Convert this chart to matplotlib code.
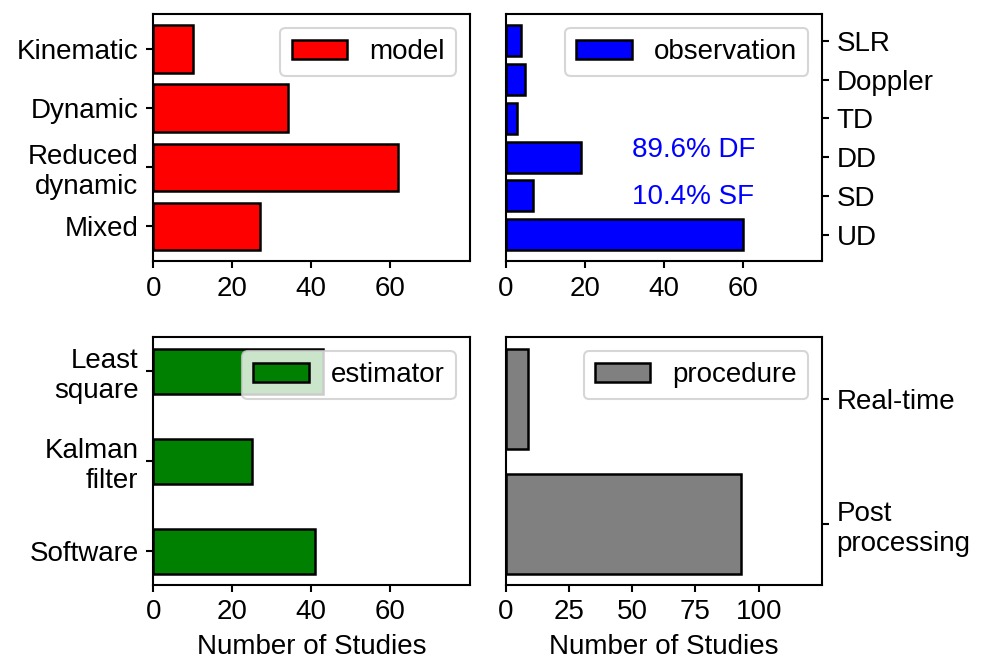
import matplotlib.pyplot as plt
import numpy as np

plt.rcParams['font.family'] = ['Liberation Sans', 'DejaVu Sans']
plt.rcParams['font.size'] = 13.3
plt.rcParams['axes.linewidth'] = 1.0
plt.rcParams['xtick.major.width'] = 1.0
plt.rcParams['ytick.major.width'] = 1.0

# counts per category, listed bottom to top
model_labels = ['Mixed', 'Reduced\ndynamic', 'Dynamic', 'Kinematic']
model_counts = [27, 62, 34, 10]

obs_labels = ['UD', 'SD', 'DD', 'TD', 'Doppler', 'SLR']
obs_counts = [60, 7, 19, 3, 5, 4]

est_labels = ['Software', 'Kalman\nfilter', 'Least\nsquare']
est_counts = [41, 25, 43]

proc_labels = ['Post\nprocessing', 'Real-time']
proc_counts = [93, 9]

fig, axes = plt.subplots(2, 2, figsize=(988 / 150, 666 / 150), dpi=150)
fig.subplots_adjust(left=0.155, right=0.832, top=0.979, bottom=0.122,
                    wspace=0.114, hspace=0.307)

bar_kw = dict(edgecolor='black', linewidth=1.2)

ax = axes[0, 0]
ax.barh(model_labels, model_counts, height=0.8, color='red',
        label='model', **bar_kw)
ax.set_xlim(0, 80)
ax.set_xticks([0, 20, 40, 60])
ax.legend(loc='upper right')

ax = axes[0, 1]
ax.barh(obs_labels, obs_counts, height=0.8, color='blue',
        label='observation', **bar_kw)
ax.set_xlim(0, 80)
ax.set_xticks([0, 20, 40, 60])
ax.yaxis.tick_right()
ax.text(32, 2, '89.6% DF', color='blue')
ax.text(32, 0.8, '10.4% SF', color='blue')
ax.legend(loc='upper right')

ax = axes[1, 0]
ax.barh(est_labels, est_counts, height=0.5, color='green',
        label='estimator', **bar_kw)
ax.set_xlim(0, 80)
ax.set_xticks([0, 20, 40, 60])
ax.set_xlabel('Number of Studies')
ax.legend(loc='upper right')

ax = axes[1, 1]
ax.barh(proc_labels, proc_counts, height=0.8, color='grey',
        label='procedure', **bar_kw)
ax.set_xlim(0, 125)
ax.set_xticks([0, 25, 50, 75, 100])
ax.yaxis.tick_right()
ax.set_xlabel('Number of Studies')
ax.legend(loc='upper right')

plt.savefig('out.png', dpi=150)
